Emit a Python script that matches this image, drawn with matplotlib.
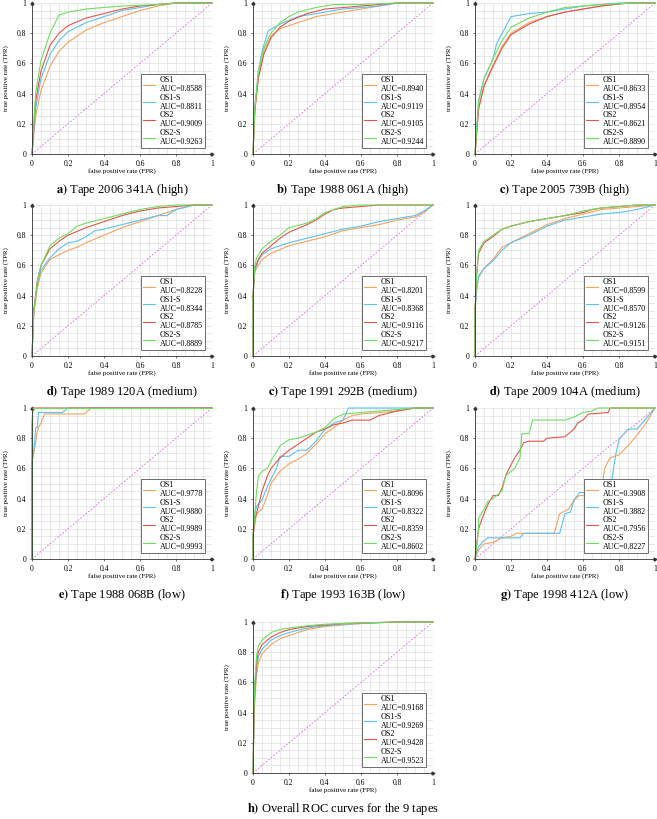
import matplotlib.pyplot as plt
from matplotlib.ticker import MultipleLocator

plt.rcParams['font.family'] = ['Liberation Serif', 'DejaVu Serif']
plt.rcParams['mathtext.fontset'] = 'stix'

series_names = ['OS1', 'OS1-S', 'OS2', 'OS2-S']
series_colors = ['#f5a35c', '#5bc2ee', '#e4544c', '#6ddf5f']

# (fpr, tpr) points
# a) Tape 2006 341A (high)
a_os1 = [(0, 0), (0.02, 0.25), (0.05, 0.42), (0.1, 0.58), (0.15, 0.68), (0.2, 0.74), (0.3, 0.82),
         (0.4, 0.87), (0.5, 0.91), (0.6, 0.95), (0.7, 0.98), (0.8, 1), (1, 1)]
a_os1s = [(0, 0), (0.02, 0.3), (0.05, 0.5), (0.1, 0.66), (0.15, 0.75), (0.2, 0.81), (0.25, 0.84),
          (0.3, 0.87), (0.4, 0.91), (0.5, 0.95), (0.6, 0.97), (0.7, 0.99), (0.8, 1), (1, 1)]
a_os2 = [(0, 0), (0.02, 0.35), (0.05, 0.55), (0.1, 0.72), (0.15, 0.8), (0.2, 0.85), (0.3, 0.9),
         (0.4, 0.93), (0.5, 0.96), (0.6, 0.98), (0.8, 1), (1, 1)]
a_os2s = [(0, 0), (0.02, 0.4), (0.05, 0.62), (0.1, 0.8), (0.15, 0.92), (0.2, 0.94), (0.3, 0.96),
          (0.5, 0.98), (0.7, 0.99), (0.8, 1), (1, 1)]
a_auc = [0.8588, 0.8811, 0.9009, 0.9263]

# b) Tape 1988 061A (high)
b_os1 = [(0, 0), (0.01, 0.3), (0.03, 0.52), (0.06, 0.68), (0.1, 0.78), (0.15, 0.83), (0.25, 0.87),
         (0.35, 0.91), (0.5, 0.94), (0.6, 0.96), (0.7, 0.98), (0.8, 1), (1, 1)]
b_os1s = [(0, 0), (0.01, 0.3), (0.03, 0.55), (0.05, 0.68), (0.084, 0.815), (0.15, 0.86), (0.25, 0.91),
          (0.4, 0.94), (0.5, 0.96), (0.7, 0.98), (0.8, 1), (1, 1)]
b_os2 = [(0, 0), (0.01, 0.28), (0.03, 0.5), (0.06, 0.66), (0.1, 0.77), (0.15, 0.84), (0.2, 0.88),
         (0.3, 0.93), (0.4, 0.96), (0.5, 0.97), (0.6, 0.98), (0.8, 1), (1, 1)]
b_os2s = [(0, 0), (0.01, 0.3), (0.03, 0.55), (0.06, 0.7), (0.1, 0.8), (0.15, 0.87), (0.2, 0.91),
          (0.25, 0.94), (0.35, 0.97), (0.45, 0.99), (0.6, 0.99), (0.8, 1), (1, 1)]
b_auc = [0.8940, 0.9119, 0.9105, 0.9244]

# c) Tape 2005 739B (high)
c_os1 = [(0, 0), (0.02, 0.3), (0.05, 0.45), (0.1, 0.59), (0.15, 0.71), (0.2, 0.8), (0.3, 0.87),
         (0.4, 0.91), (0.5, 0.94), (0.6, 0.96), (0.7, 0.98), (0.85, 1), (1, 1)]
c_os1s = [(0, 0), (0.02, 0.35), (0.05, 0.5), (0.1, 0.63), (0.12, 0.73), (0.2, 0.91), (0.3, 0.93),
          (0.4, 0.94), (0.5, 0.96), (0.6, 0.98), (0.8, 1), (1, 1)]
c_os2 = [(0, 0), (0.02, 0.3), (0.05, 0.45), (0.1, 0.58), (0.15, 0.7), (0.2, 0.79), (0.3, 0.86),
         (0.4, 0.91), (0.5, 0.94), (0.6, 0.96), (0.7, 0.98), (0.85, 1), (1, 1)]
c_os2s = [(0, 0), (0.02, 0.35), (0.05, 0.5), (0.1, 0.63), (0.15, 0.75), (0.2, 0.84), (0.3, 0.9),
          (0.4, 0.94), (0.5, 0.97), (0.6, 0.98), (0.7, 0.99), (0.9, 1), (1, 1)]
c_auc = [0.8633, 0.8954, 0.8621, 0.8890]

# d) Tape 1989 120A (medium)
d_os1 = [(0, 0), (0.01, 0.28), (0.03, 0.45), (0.05, 0.55), (0.1, 0.64), (0.15, 0.67), (0.2, 0.7),
         (0.25, 0.72), (0.3, 0.75), (0.4, 0.8), (0.5, 0.85), (0.6, 0.89), (0.7, 0.93), (0.8, 0.97),
         (0.9, 1), (1, 1)]
d_os1s = [(0, 0), (0.01, 0.3), (0.03, 0.48), (0.05, 0.57), (0.1, 0.65), (0.15, 0.71), (0.2, 0.75),
          (0.25, 0.76), (0.3, 0.79), (0.35, 0.83), (0.4, 0.84), (0.5, 0.87), (0.6, 0.9), (0.7, 0.93),
          (0.75, 0.93), (0.8, 0.97), (0.9, 1), (1, 1)]
d_os2 = [(0, 0), (0.01, 0.3), (0.03, 0.5), (0.05, 0.6), (0.1, 0.71), (0.15, 0.76), (0.2, 0.8),
         (0.3, 0.85), (0.4, 0.89), (0.5, 0.93), (0.6, 0.96), (0.7, 0.98), (0.8, 0.99), (0.9, 1), (1, 1)]
d_os2s = [(0, 0), (0.01, 0.3), (0.03, 0.5), (0.05, 0.6), (0.1, 0.73), (0.15, 0.78), (0.2, 0.81),
          (0.25, 0.86), (0.3, 0.88), (0.4, 0.91), (0.5, 0.94), (0.6, 0.97), (0.7, 0.99), (0.8, 1), (1, 1)]
d_auc = [0.8228, 0.8344, 0.8785, 0.8889]

# c) Tape 1991 292B (medium)
c2_os1 = [(0, 0), (0, 0.4), (0.01, 0.56), (0.03, 0.6), (0.05, 0.64), (0.1, 0.68), (0.2, 0.73),
          (0.3, 0.76), (0.4, 0.79), (0.5, 0.83), (0.6, 0.85), (0.7, 0.87), (0.8, 0.9), (0.9, 0.92),
          (0.95, 0.95), (1, 1)]
c2_os1s = [(0, 0), (0, 0.4), (0.01, 0.57), (0.03, 0.63), (0.05, 0.67), (0.1, 0.71), (0.2, 0.75),
           (0.3, 0.78), (0.4, 0.81), (0.5, 0.84), (0.6, 0.86), (0.7, 0.89), (0.8, 0.91), (0.9, 0.93),
           (0.95, 0.96), (1, 1)]
c2_os2 = [(0, 0), (0, 0.4), (0.01, 0.58), (0.03, 0.64), (0.05, 0.68), (0.1, 0.73), (0.15, 0.78),
          (0.2, 0.82), (0.3, 0.87), (0.35, 0.9), (0.4, 0.94), (0.45, 0.97), (0.5, 0.98), (0.6, 0.99),
          (0.7, 1), (1, 1)]
c2_os2s = [(0, 0), (0, 0.4), (0.01, 0.6), (0.02, 0.65), (0.05, 0.71), (0.1, 0.76), (0.15, 0.8),
           (0.2, 0.85), (0.3, 0.88), (0.35, 0.91), (0.4, 0.95), (0.45, 0.97), (0.5, 0.99), (0.6, 1), (1, 1)]
c2_auc = [0.8201, 0.8368, 0.9116, 0.9217]

# d) Tape 2009 104A (medium)
d2_os1 = [(0, 0), (0, 0.3), (0.01, 0.45), (0.02, 0.52), (0.05, 0.58), (0.1, 0.64), (0.15, 0.72),
          (0.2, 0.75), (0.3, 0.81), (0.4, 0.87), (0.5, 0.91), (0.6, 0.94), (0.7, 0.97), (0.8, 0.98),
          (0.9, 0.99), (1, 1)]
d2_os1s = [(0, 0), (0, 0.3), (0.01, 0.45), (0.02, 0.53), (0.05, 0.58), (0.1, 0.63), (0.15, 0.7),
           (0.2, 0.75), (0.3, 0.8), (0.4, 0.86), (0.5, 0.9), (0.6, 0.92), (0.7, 0.94), (0.8, 0.95),
           (0.9, 0.97), (1, 1)]
d2_os2 = [(0, 0), (0, 0.3), (0.01, 0.55), (0.02, 0.68), (0.05, 0.75), (0.1, 0.79), (0.15, 0.84),
          (0.2, 0.86), (0.3, 0.89), (0.4, 0.91), (0.5, 0.93), (0.6, 0.95), (0.65, 0.97), (0.7, 0.98),
          (0.8, 0.99), (0.9, 1), (1, 1)]
d2_os2s = [(0, 0), (0, 0.3), (0.01, 0.55), (0.02, 0.7), (0.05, 0.76), (0.1, 0.8), (0.15, 0.84),
           (0.2, 0.86), (0.3, 0.89), (0.4, 0.91), (0.5, 0.93), (0.6, 0.96), (0.7, 0.98), (0.8, 0.99),
           (0.9, 1), (1, 1)]
d2_auc = [0.8599, 0.8570, 0.9126, 0.9151]

# e) Tape 1988 068B (low)
e_os1 = [(0, 0), (0, 0.65), (0.01, 0.7), (0.02, 0.77), (0.03, 0.85), (0.04, 0.88), (0.05, 0.9),
         (0.06, 0.93), (0.07, 0.96), (0.29, 0.96), (0.33, 1), (1, 1)]
e_os1s = [(0, 0), (0, 0.65), (0.01, 0.72), (0.015, 0.77), (0.02, 0.87), (0.03, 0.87), (0.035, 0.97),
          (0.17, 0.97), (0.2, 1), (1, 1)]
e_os2 = [(0, 0), (0, 0.9), (0.005, 1), (1, 1)]
e_os2s = [(0, 0), (0, 1), (1, 1)]
e_auc = [0.9778, 0.9880, 0.9989, 0.9993]

# f) Tape 1993 163B (low)
f_os1 = [(0, 0), (0, 0.15), (0.02, 0.3), (0.05, 0.33), (0.08, 0.42), (0.1, 0.5), (0.15, 0.58),
         (0.2, 0.63), (0.25, 0.66), (0.3, 0.7), (0.35, 0.76), (0.4, 0.83), (0.45, 0.87), (0.5, 0.92),
         (0.55, 0.95), (0.6, 0.96), (0.7, 0.97), (0.8, 0.98), (0.9, 1), (1, 1)]
f_os1s = [(0, 0), (0, 0.15), (0.01, 0.3), (0.02, 0.35), (0.05, 0.39), (0.07, 0.45), (0.1, 0.53),
          (0.13, 0.6), (0.15, 0.68), (0.2, 0.68), (0.25, 0.72), (0.3, 0.72), (0.35, 0.78), (0.4, 0.86),
          (0.45, 0.9), (0.5, 0.92), (0.53, 1), (1, 1)]
f_os2 = [(0, 0), (0, 0.15), (0.01, 0.26), (0.03, 0.35), (0.05, 0.45), (0.08, 0.55), (0.1, 0.6),
         (0.15, 0.67), (0.2, 0.72), (0.25, 0.76), (0.3, 0.8), (0.35, 0.84), (0.4, 0.86), (0.45, 0.89),
         (0.5, 0.9), (0.55, 0.92), (0.65, 0.92), (0.7, 0.95), (0.8, 0.98), (0.9, 1), (1, 1)]
f_os2s = [(0, 0), (0, 0.15), (0.01, 0.3), (0.02, 0.45), (0.03, 0.55), (0.05, 0.58), (0.08, 0.6),
          (0.1, 0.65), (0.15, 0.75), (0.2, 0.79), (0.25, 0.8), (0.3, 0.82), (0.35, 0.84), (0.4, 0.87),
          (0.45, 0.93), (0.5, 0.96), (0.6, 0.97), (0.7, 0.98), (0.8, 0.99), (0.9, 1), (1, 1)]
f_auc = [0.8096, 0.8322, 0.8359, 0.8602]

# g) Tape 1998 412A (low)
g_os1 = [(0, 0), (0.02, 0.06), (0.05, 0.1), (0.1, 0.11), (0.15, 0.14), (0.2, 0.15), (0.23, 0.17),
         (0.44, 0.17), (0.47, 0.3), (0.52, 0.33), (0.55, 0.39), (0.58, 0.42), (0.7, 0.42), (0.72, 0.6),
         (0.75, 0.67), (0.8, 0.69), (0.85, 0.75), (0.9, 0.82), (0.95, 0.9), (1, 1)]
g_os1s = [(0, 0), (0.01, 0.05), (0.02, 0.08), (0.04, 0.11), (0.06, 0.13), (0.07, 0.14), (0.25, 0.14),
          (0.27, 0.17), (0.47, 0.17), (0.5, 0.3), (0.53, 0.31), (0.55, 0.39), (0.58, 0.44), (0.75, 0.44),
          (0.78, 0.68), (0.8, 0.79), (0.85, 0.86), (0.9, 0.86), (1, 1)]
g_os2 = [(0, 0), (0.01, 0.1), (0.02, 0.2), (0.04, 0.27), (0.06, 0.33), (0.08, 0.38), (0.1, 0.42),
         (0.13, 0.42), (0.15, 0.47), (0.17, 0.55), (0.19, 0.6), (0.22, 0.67), (0.25, 0.72), (0.27, 0.77),
         (0.3, 0.78), (0.38, 0.78), (0.4, 0.8), (0.5, 0.81), (0.55, 0.86), (0.57, 0.9), (0.6, 0.92),
         (0.63, 0.96), (0.74, 0.97), (0.75, 1), (1, 1)]
g_os2s = [(0, 0), (0.01, 0.1), (0.02, 0.2), (0.02, 0.27), (0.05, 0.33), (0.07, 0.38), (0.1, 0.4),
          (0.12, 0.42), (0.15, 0.45), (0.17, 0.55), (0.2, 0.58), (0.22, 0.6), (0.25, 0.67), (0.26, 0.83),
          (0.3, 0.83), (0.32, 0.92), (0.5, 0.92), (0.55, 0.94), (0.6, 0.97), (0.65, 0.98), (0.68, 1), (1, 1)]
g_auc = [0.3908, 0.3882, 0.7956, 0.8227]

# h) Overall
h_os1 = [(0, 0), (0.005, 0.3), (0.01, 0.48), (0.02, 0.65), (0.03, 0.73), (0.05, 0.79), (0.1, 0.85),
         (0.15, 0.89), (0.2, 0.91), (0.3, 0.95), (0.4, 0.97), (0.5, 0.98), (0.6, 0.99), (0.8, 1), (1, 1)]
h_os1s = [(0, 0), (0.005, 0.33), (0.01, 0.52), (0.02, 0.7), (0.03, 0.77), (0.05, 0.82), (0.1, 0.88),
          (0.15, 0.91), (0.2, 0.93), (0.3, 0.96), (0.4, 0.975), (0.5, 0.985), (0.6, 0.99), (0.8, 1), (1, 1)]
h_os2 = [(0, 0), (0.005, 0.35), (0.01, 0.55), (0.02, 0.73), (0.03, 0.8), (0.05, 0.85), (0.1, 0.9),
         (0.15, 0.93), (0.2, 0.95), (0.3, 0.97), (0.4, 0.98), (0.5, 0.99), (0.7, 0.997), (0.8, 1), (1, 1)]
h_os2s = [(0, 0), (0.005, 0.4), (0.01, 0.6), (0.02, 0.78), (0.03, 0.84), (0.05, 0.88), (0.1, 0.93),
          (0.15, 0.95), (0.2, 0.96), (0.3, 0.975), (0.4, 0.985), (0.5, 0.99), (0.7, 0.997), (0.8, 1), (1, 1)]
h_auc = [0.9168, 0.9269, 0.9428, 0.9523]

captions = [
    ('a', 'Tape 2006 341A (high)'), ('b', 'Tape 1988 061A (high)'), ('c', 'Tape 2005 739B (high)'),
    ('d', 'Tape 1989 120A (medium)'), ('c', 'Tape 1991 292B (medium)'), ('d', 'Tape 2009 104A (medium)'),
    ('e', 'Tape 1988 068B (low)'), ('f', 'Tape 1993 163B (low)'), ('g', 'Tape 1998 412A (low)'),
    ('h', 'Overall ROC curves for the 9 tapes'),
]
curves = [
    [a_os1, a_os1s, a_os2, a_os2s], [b_os1, b_os1s, b_os2, b_os2s], [c_os1, c_os1s, c_os2, c_os2s],
    [d_os1, d_os1s, d_os2, d_os2s], [c2_os1, c2_os1s, c2_os2, c2_os2s], [d2_os1, d2_os1s, d2_os2, d2_os2s],
    [e_os1, e_os1s, e_os2, e_os2s], [f_os1, f_os1s, f_os2, f_os2s], [g_os1, g_os1s, g_os2, g_os2s],
    [h_os1, h_os1s, h_os2, h_os2s],
]
aucs = [a_auc, b_auc, c_auc, d_auc, c2_auc, d2_auc, e_auc, f_auc, g_auc, h_auc]

W, H = 657, 819
col_left = [32, 253, 475]
row_bottom = [154, 356, 559, 773]
ax_w, ax_h = 180, 151
slots = [(r, c) for r in range(3) for c in range(3)] + [(3, 1)]

fig = plt.figure(figsize=(W / 100, H / 100), dpi=100)
tick_fmt = plt.FuncFormatter(lambda v, p: f'{v:g}')

for i, (r, c) in enumerate(slots):
    ax = fig.add_axes([col_left[c] / W, 1 - row_bottom[r] / H, ax_w / W, ax_h / H])
    ax.set_xlim(0, 1)
    ax.set_ylim(0, 1)
    ax.xaxis.set_major_locator(MultipleLocator(0.2))
    ax.yaxis.set_major_locator(MultipleLocator(0.2))
    ax.xaxis.set_minor_locator(MultipleLocator(0.05))
    ax.yaxis.set_minor_locator(MultipleLocator(0.05))
    ax.xaxis.set_major_formatter(tick_fmt)
    ax.yaxis.set_major_formatter(tick_fmt)
    ax.grid(which='both', color='#dcdcdc', lw=0.45)
    ax.set_axisbelow(True)
    ax.tick_params(which='major', length=1.5, width=0.5, labelsize=5.5, pad=2.5, color='#333333')
    ax.tick_params(which='minor', length=0)
    for s in ['top', 'right']:
        ax.spines[s].set_visible(False)
    for s in ['left', 'bottom']:
        ax.spines[s].set_linewidth(0.6)
        ax.spines[s].set_color('#333333')
    ax.plot(1, 0, '>', color='#333333', ms=2, transform=ax.get_yaxis_transform(), clip_on=False)
    ax.plot(0, 1, '^', color='#333333', ms=2, transform=ax.get_xaxis_transform(), clip_on=False)

    ax.plot([0, 1], [0, 1], color='#dd66dd', ls=(0, (2, 2)), lw=0.6)
    for pts, name, col, auc in zip(curves[i], series_names, series_colors, aucs[i]):
        xs = [p[0] for p in pts]
        ys = [p[1] for p in pts]
        ax.plot(xs, ys, color=col, lw=0.8, clip_on=False, label=f'{name}\nAUC={auc:.4f}')

    leg = ax.legend(loc='lower right', bbox_to_anchor=(0.962, 0.04), borderaxespad=0, fontsize=5.8,
                    frameon=True, fancybox=False, framealpha=1, edgecolor='#555555', handlelength=1.5,
                    handletextpad=0.6, labelspacing=0.05, borderpad=0.25)
    leg.get_frame().set_linewidth(0.6)

    ax.set_xlabel('false positive rate (FPR)', fontsize=5)
    ax.set_ylabel('true positive rate (TPR)', fontsize=5)
    ax.xaxis.set_label_coords(0.5, -0.095)
    ax.yaxis.set_label_coords(-0.125, 0.5)

    letter, text = captions[i]
    ax.text(0.5, -36 / ax_h, r'$\mathbf{' + letter + r')}$ ' + text, transform=ax.transAxes,
            ha='center', va='center', fontsize=9)

fig.savefig('out.png', dpi=100)
